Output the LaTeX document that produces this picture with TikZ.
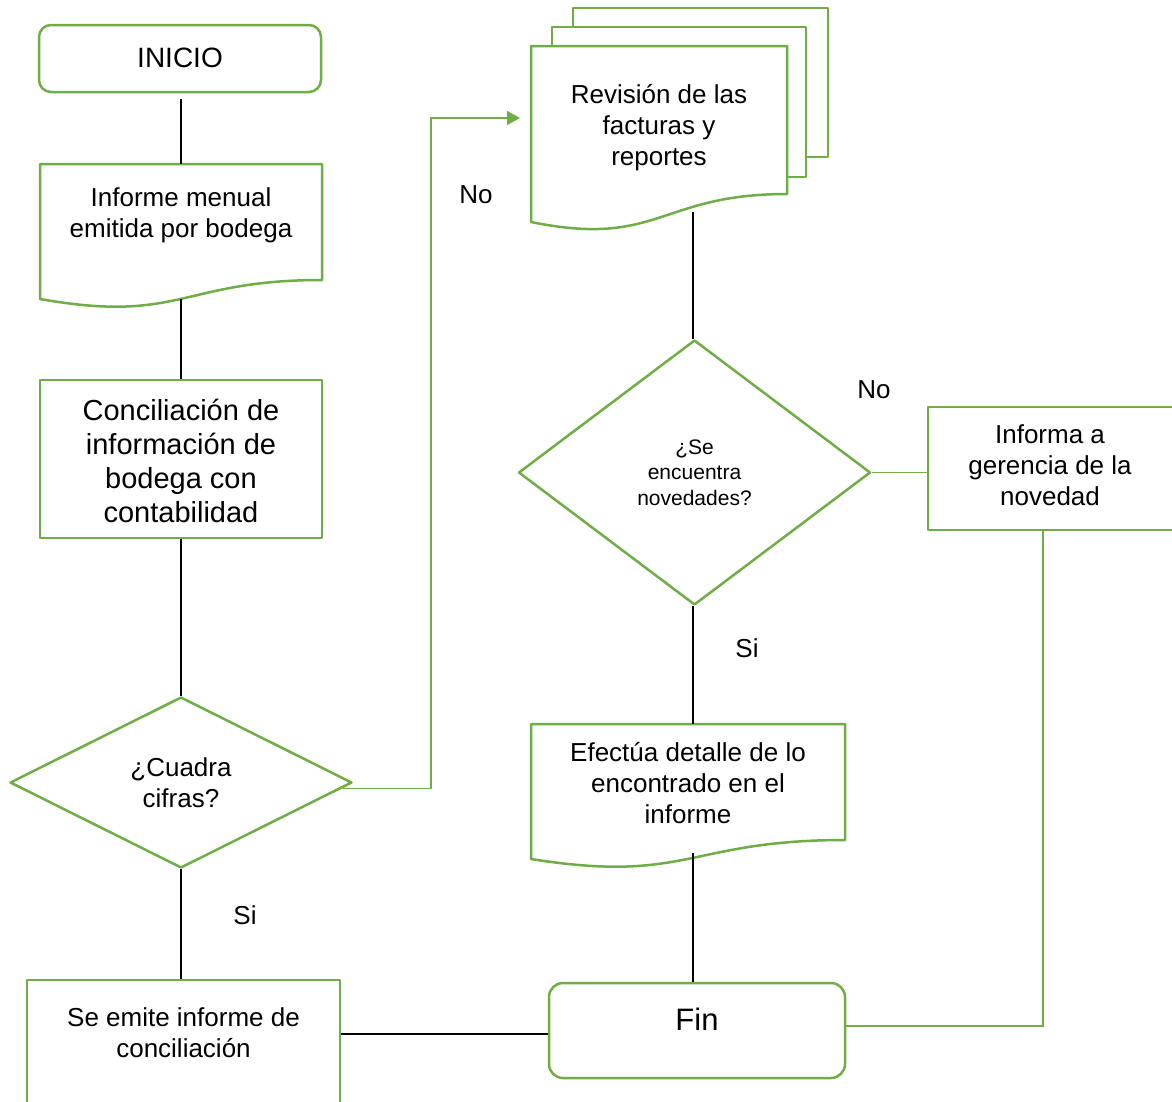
\documentclass[tikz,border=0pt]{standalone}
\usepackage{fontspec}
\setmainfont{Liberation Sans}
\usetikzlibrary{shapes.geometric,arrows.meta,calc}
\definecolor{ogreen}{HTML}{70AD47}
\begin{document}
\begin{tikzpicture}[x=1pt,y=-1pt,
  shapeline/.style={draw=ogreen, line width=2.5pt, line join=round},
  txt/.style={font=\fontsize{26}{31}\selectfont, align=center, inner sep=0pt},
  conn/.style={draw=black, line width=1.2pt},
  gconn/.style={draw=ogreen, line width=1.6pt}]
\useasboundingbox (0,0) rectangle (1172,1101);
\fill[white] (0,0) rectangle (1172,1101);

% INICIO
\node[shapeline, rounded corners=12pt, minimum width=282pt, minimum height=67pt] (inicio) at (180,58.5) {};
\node[txt, font=\fontsize{28}{32}\selectfont] (iniciotxt) at (180,57.5) {INICIO};

% Document 1
\draw[shapeline] (40,164) -- (322,164) -- (322,280)
  .. controls (181,280) and (181,324) .. (40,299) -- cycle;
\node[txt] (doc1) at (181,215) {Informe menual\\emitida por bodega};
\coordinate (doc1top) at (181,164);
\coordinate (doc1bot) at (181,299);

% Conciliacion
\node[shapeline, minimum width=282pt, minimum height=158pt] (conc) at (181,459) {};
\node[txt, font=\fontsize{29}{34}\selectfont] (conctxt) at (181,461)
  {Conciliación de\\información de\\bodega con\\contabilidad};

% Decision 1
\node[shapeline, diamond, aspect=2, minimum width=342pt, minimum height=171pt,
      txt] (dia1) at (181,782.5) {¿Cuadra\\cifras?};

% Se emite informe
\node[shapeline, minimum width=313pt, minimum height=150pt] (emite) at (183.5,1055) {};
\node[txt] (emitetxt) at (183.5,1032.5) {Se emite informe de\\conciliación};

% Multidocument
\draw[shapeline] (573,27) -- (573,8) -- (828,8) -- (828,157) -- (806,157);
\draw[shapeline] (552,46) -- (552,27) -- (806,27) -- (806,177) -- (787,177);
\draw[shapeline, fill=white] (531,46) -- (787,46) -- (787,194)
  .. controls (659,194) and (659,248) .. (531,222) -- cycle;
\node[txt] (rev) at (659,128) {Revisión de las\\facturas y\\reportes};
\coordinate (revleft) at (531,118);
\coordinate (revbot) at (693,212);

% Decision 2
\node[shapeline, diamond, aspect=1.33, minimum width=352pt, minimum height=265pt,
      txt, font=\fontsize{21}{25.5}\selectfont] (dia2) at (694.5,472.5)
  {¿Se\\encuentra\\novedades?};

% Informa a gerencia
\node[shapeline, minimum width=246pt, minimum height=123pt] (inf) at (1051,468.5) {};
\node[txt] (inftxt) at (1050,465.5) {Informa a\\gerencia de la\\novedad};

% Document Efectua
\draw[shapeline] (531,724) -- (845,724) -- (845,840)
  .. controls (688,840) and (688,884) .. (531,859) -- cycle;
\node[txt] (efe) at (688,783.5) {Efectúa detalle de lo\\encontrado en el\\informe};
\coordinate (efetop) at (693,724);
\coordinate (efebot) at (693,853);

% Fin
\node[shapeline, rounded corners=14pt, minimum width=296pt, minimum height=95pt] (fin) at (697,1030.5) {};
\node[txt, font=\fontsize{31}{36}\selectfont] (fintxt) at (697,1019) {Fin};

% Connectors
\draw[draw=black, line width=2.2pt] ([yshift=-6pt]doc1top |- inicio.south) -- (doc1top);
\draw[conn] (doc1bot) -- (conc.north);
\draw[conn] (conc.south) -- (dia1.north);
\draw[conn] (dia1.south) -- (dia1.south |- emite.north);
\draw[gconn, -{Triangle[length=13pt,width=14pt]}]
  ($(dia1.east)+(-10,6)$) -| ($(revleft)+(-100,0)$) -- ([xshift=-11pt]revleft);
\draw[conn] (revbot) -- (revbot |- dia2.north);
\draw[gconn] (dia2.east) -- (dia2.east -| inf.west);
\draw[conn] (efetop |- dia2.south) -- (efetop);
\draw[conn] (efebot) -- (efebot |- fin.north);
\draw[gconn] ([xshift=-8pt]inf.south) |- ([yshift=4.5pt]fin.east);
\coordinate (finW) at ([yshift=-3.5pt]fin.west);
\draw[conn] (emite.east |- finW) -- (finW);

% Labels
\node[txt] (no1) at (476,195) {No};
\node[txt] (no2) at (874,390) {No};
\node[txt] (si1) at (747,648) {Si};
\node[txt] (si2) at (245,915) {Si};
\end{tikzpicture}
\end{document}
